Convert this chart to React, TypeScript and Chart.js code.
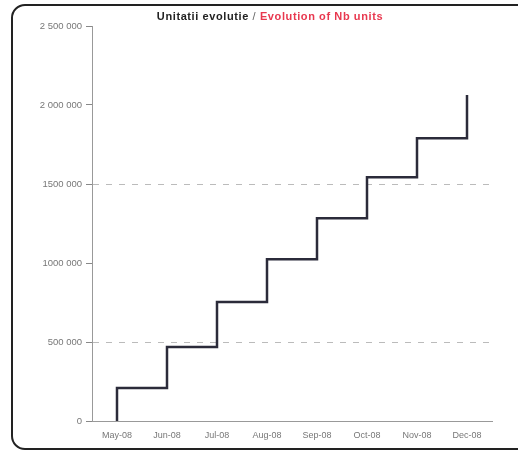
import React, { useEffect, useRef } from "react";
import { Chart, registerables } from "chart.js";

Chart.register(...registerables);

const months = ["May-08", "Jun-08", "Jul-08", "Aug-08", "Sep-08", "Oct-08", "Nov-08", "Dec-08"];
const units = [209000, 468000, 753000, 1023000, 1284000, 1542000, 1789000, 2063000];
const yTickValues = [0, 500000, 1000000, 1500000, 2000000, 2500000];
const yTickLabels = ["0", "500 000", "1000 000", "1500 000", "2 000 000", "2 500 000"];
const dashedAt = [500000, 1500000];

export default function App() {
  const ref = useRef<HTMLCanvasElement | null>(null);

  useEffect(() => {
    if (!ref.current) return;
    const pts: { x: string; y: number }[] = [];
    let prev = 0;
    months.forEach((m, i) => {
      pts.push({ x: m, y: prev });
      pts.push({ x: m, y: units[i] });
      prev = units[i];
    });
    const chart = new Chart(ref.current, {
      type: "line",
      data: {
        labels: months,
        datasets: [
          {
            data: pts as any,
            borderColor: "#2b2b3a",
            borderWidth: 2.5,
            pointRadius: 0,
            fill: false,
            tension: 0,
          },
        ],
      },
      options: {
        animation: false,
        responsive: false,
        maintainAspectRatio: false,
        layout: { padding: { top: 26, right: 26, bottom: 0, left: 0 } },
        plugins: { legend: { display: false }, title: { display: false }, tooltip: { enabled: false } },
        scales: {
          x: {
            type: "category",
            offset: true,
            afterFit: (s: any) => {
              s.height = 31;
            },
            grid: { display: false, drawTicks: false },
            border: { display: true, color: "#999", width: 1 },
            ticks: {
              color: "#777",
              font: { family: "Liberation Sans", size: 9 },
              padding: 9,
              maxRotation: 0,
              autoSkip: false,
            },
          },
          y: {
            min: 0,
            max: 2500000,
            afterFit: (s: any) => {
              s.width = 92;
            },
            afterBuildTicks: (s: any) => {
              s.ticks = yTickValues.map((v) => ({ value: v }));
            },
            grid: {
              color: (c: any) =>
                c.tick && dashedAt.includes(c.tick.value) ? "#bbb" : "rgba(0,0,0,0)",
              tickColor: "#888",
              tickLength: 6,
              lineWidth: 1,
            },
            border: { display: true, color: "#999", width: 1, dash: [6, 7] },
            ticks: {
              color: "#777",
              font: { family: "Liberation Sans", size: 9.5 },
              padding: 4,
              callback: (v: any) => {
                const i = yTickValues.indexOf(Number(v));
                return i >= 0 ? yTickLabels[i] : "";
              },
            },
          },
        },
      },
    });
    return () => chart.destroy();
  }, []);

  return (
    <div style={{ position: "fixed", left: 0, top: 0, width: 518, height: 452, background: "#fff", overflow: "hidden" }}>
      <div
        style={{
          position: "absolute",
          left: 11,
          top: 4,
          width: 540,
          height: 446,
          border: "2px solid #222",
          borderRadius: 14,
          boxSizing: "border-box",
        }}
      />
      <canvas ref={ref} width={518} height={452} style={{ position: "absolute", left: 0, top: 0 }} />
      <div
        style={{
          position: "absolute",
          left: 0,
          width: 540,
          top: 10,
          textAlign: "center",
          fontFamily: "Liberation Sans, Arial, sans-serif",
          fontSize: 11,
          letterSpacing: 0.6,
          fontWeight: "bold",
          whiteSpace: "nowrap",
        }}
      >
        <span style={{ color: "#222" }}>Unitatii evolutie</span>
        <span style={{ color: "#666", fontWeight: "normal" }}> / </span>
        <span style={{ color: "#e8384f" }}>Evolution of Nb units</span>
      </div>
    </div>
  );
}
